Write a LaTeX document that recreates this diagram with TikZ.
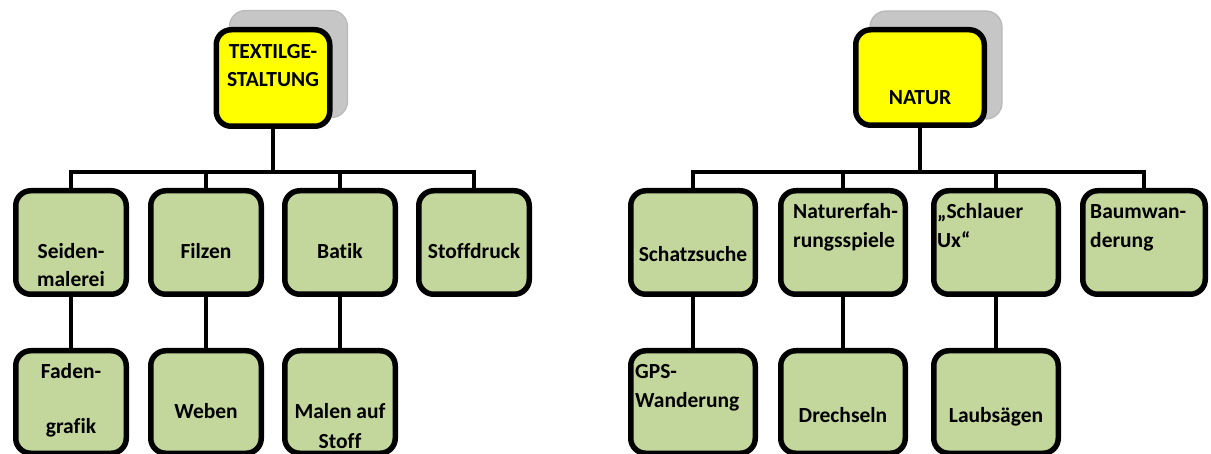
\documentclass[tikz,border=0pt]{standalone}
\usepackage{fontspec}
\setmainfont{Carlito}[Ligatures=NoCommon]
\definecolor{boxgreen}{HTML}{C3D69B}
\definecolor{topyellow}{HTML}{FFFF00}
\definecolor{shadowfill}{HTML}{C6C6C6}
\definecolor{shadowline}{HTML}{B8B8B8}
\begin{document}
\begin{tikzpicture}[x=1pt,y=-1pt,
  box/.style={draw=black, line width=5.5pt, rounded corners=15pt, fill=boxgreen,
    inner sep=0pt, outer sep=0pt, minimum height=103.5pt},
  boxL/.style={box, minimum width=110.5pt},
  boxR/.style={box, minimum width=124.5pt},
  boxLow/.style={minimum height=102.5pt},
  topbox/.style={draw=black, line width=5.5pt, rounded corners=15pt, fill=topyellow,
    inner sep=0pt, outer sep=0pt},
  shade/.style={draw=shadowline, line width=1.2pt, rounded corners=16pt, fill=shadowfill,
    inner sep=0pt, outer sep=0pt},
  conn/.style={draw=black, line width=4.2pt},
  lbl/.style={font=\fontsize{21.5}{26}\selectfont\bfseries, inner sep=0pt}]
\clip (0,0) rectangle (1211,454);
\useasboundingbox (0,0) rectangle (1211,454);

% ---------- left tree ----------
\node[shade, minimum width=118pt, minimum height=107pt] (sT) at (288.5,64) {};
\node[topbox, minimum width=113.5pt, minimum height=96.5pt] (T) at (273,78) {};
\node[boxL] (a1) at (71,242.5) {};
\node[boxL] (a2) at (206,242.5) {};
\node[boxL] (a3) at (340,242.5) {};
\node[boxL] (a4) at (474,242.5) {};
\node[boxL, boxLow] (b1) at (71,402) {};
\node[boxL, boxLow] (b2) at (206,402) {};
\node[boxL, boxLow] (b3) at (340,402) {};
\coordinate (bL) at (273,172);
\draw[conn] (T.south) -- (bL);
\draw[conn] (a1.north) |- (bL);
\draw[conn] (a2.north) |- (bL);
\draw[conn] (a3.north) |- (bL);
\draw[conn] (a4.north) |- (bL);
\draw[conn] (a1.south) -- (b1.north);
\draw[conn] (a2.south) -- (b2.north);
\draw[conn] (a3.south) -- (b3.north);

\node[lbl, anchor=base] (tT1) at (273,59) {TEXTILGE-};
\node[lbl, anchor=base] (tT2) at (273,87) {STALTUNG};
\node[lbl, anchor=base] (ta1a) at (71,259) {Seiden-};
\node[lbl, anchor=base] (ta1b) at (71,287) {malerei};
\node[lbl, anchor=base] (ta2) at (206,259) {Filzen};
\node[lbl, anchor=base] (ta3) at (340,259) {Batik};
\node[lbl, anchor=base] (ta4) at (474,259) {Stoffdruck};
\node[lbl, anchor=base] (tb1a) at (71,379) {Faden-};
\node[lbl, anchor=base] (tb1b) at (71,434) {grafik};
\node[lbl, anchor=base] (tb2) at (206,419) {Weben};
\node[lbl, anchor=base] (tb3a) at (340,419) {Malen auf};
\node[lbl, anchor=base] (tb3b) at (340,449) {Stoff};

% ---------- right tree ----------
\node[shade, minimum width=132pt, minimum height=108pt] (sN) at (936,65) {};
\node[topbox, minimum width=128.5pt, minimum height=95.5pt] (N) at (920,77.5) {};
\node[boxR] (c1) at (693,242.5) {};
\node[boxR] (c2) at (843,242.5) {};
\node[boxR] (c3) at (996,242.5) {};
\node[boxR, minimum width=122.5pt] (c4) at (1144,242.5) {};
\node[boxR, boxLow] (d1) at (693,402) {};
\node[boxR, boxLow] (d2) at (843,402) {};
\node[boxR, boxLow] (d3) at (996,402) {};
\coordinate (bR) at (920,172);
\draw[conn] (N.south) -- (bR);
\draw[conn] (c1.north) |- (bR);
\draw[conn] (c2.north) |- (bR);
\draw[conn] (c3.north) |- (bR);
\draw[conn] (c4.north) |- (bR);
\draw[conn] (c1.south) -- (d1.north);
\draw[conn] (c2.south) -- (d2.north);
\draw[conn] (c3.south) -- (d3.north);

\node[lbl, anchor=base] (tN) at (920,105) {NATUR};
\node[lbl, anchor=base] (tc1) at (693,262) {Schatzsuche};
\node[lbl, anchor=base west] (tc2a) at (793,219) {Naturerfah-};
\node[lbl, anchor=base west] (tc2b) at (793,248) {rungsspiele};
\node[lbl, anchor=base west] (tc3a) at (937,219) {„Schlauer};
\node[lbl, anchor=base west] (tc3b) at (937,248) {Ux“};
\node[lbl, anchor=base west] (tc4a) at (1090,219) {Baumwan-};
\node[lbl, anchor=base west] (tc4b) at (1090,248) {derung};
\node[lbl, anchor=base west] (td1a) at (635,379) {GPS-};
\node[lbl, anchor=base west] (td1b) at (635,407) {Wanderung};
\node[lbl, anchor=base] (td2) at (843,422) {Drechseln};
\node[lbl, anchor=base] (td3) at (996,422) {Laubsägen};
\end{tikzpicture}
\end{document}
